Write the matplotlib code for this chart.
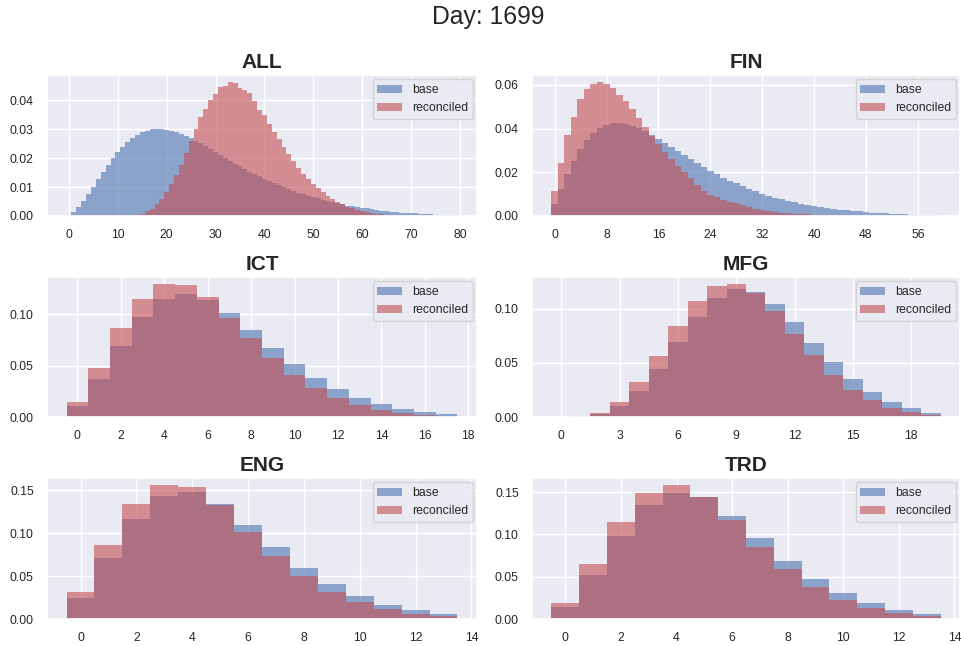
import numpy as np
import matplotlib
matplotlib.use("Agg")
import matplotlib.pyplot as plt
import seaborn as sns

sns.set_theme(style="darkgrid")
plt.rcParams['font.family'] = ['Liberation Sans', 'DejaVu Sans']

suptitle = "Day: 1699"
panels = ["ALL", "FIN", "ICT", "MFG", "ENG", "TRD"]

all_base = [0.0003, 0.0014, 0.0031, 0.0052, 0.0076, 0.0101, 0.0128, 0.0153, 0.0177, 0.0201,
            0.0222, 0.0240, 0.0257, 0.0271, 0.0281, 0.0291, 0.0296, 0.0302, 0.0302, 0.0301,
            0.0298, 0.0295, 0.0291, 0.0284, 0.0277, 0.0270, 0.0261, 0.0252, 0.0243, 0.0232,
            0.0222, 0.0212, 0.0201, 0.0191, 0.0181, 0.0173, 0.0163, 0.0154, 0.0146, 0.0137,
            0.0129, 0.0121, 0.0113, 0.0106, 0.0099, 0.0092, 0.0087, 0.0081, 0.0075, 0.0070,
            0.0065, 0.0061, 0.0057, 0.0052, 0.0048, 0.0044, 0.0040, 0.0036, 0.0033, 0.0030,
            0.0028, 0.0026, 0.0023, 0.0021, 0.0019, 0.0017, 0.0015, 0.0014, 0.0012, 0.0011,
            0.0010, 0.0009, 0.0008, 0.0007, 0.0006, 0.0005, 0.0005, 0.0004, 0.0003, 0.0003]
all_rec = [0, 0, 0, 0, 0, 0, 0, 0, 0, 0,
           0, 0, 0.0001, 0.0002, 0.0003, 0.0007, 0.0017, 0.0025, 0.0043, 0.0060,
           0.0084, 0.0112, 0.0143, 0.0178, 0.0218, 0.0260, 0.0302, 0.0343, 0.0371, 0.0402,
           0.0423, 0.0447, 0.0451, 0.0465, 0.0461, 0.0444, 0.0435, 0.0427, 0.0399, 0.0368,
           0.0350, 0.0319, 0.0292, 0.0266, 0.0240, 0.0215, 0.0191, 0.0165, 0.0146, 0.0129,
           0.0111, 0.0096, 0.0082, 0.0069, 0.0058, 0.0049, 0.0040, 0.0032, 0.0027, 0.0021,
           0.0016, 0.0013, 0.0010, 0.0008, 0.0006, 0.0005, 0.0004, 0.0003, 0.0002, 0.0001,
           0, 0, 0, 0, 0, 0, 0, 0, 0, 0]

fin_base = [0.0055, 0.0124, 0.0192, 0.0252, 0.0307, 0.0348, 0.0380, 0.0403, 0.0417, 0.0426,
            0.0426, 0.0421, 0.0412, 0.0403, 0.0389, 0.0371, 0.0353, 0.0334, 0.0316, 0.0298,
            0.0279, 0.0261, 0.0243, 0.0224, 0.0206, 0.0192, 0.0175, 0.0161, 0.0149, 0.0138,
            0.0125, 0.0115, 0.0102, 0.0092, 0.0083, 0.0077, 0.0069, 0.0063, 0.0055, 0.0051,
            0.0046, 0.0042, 0.0036, 0.0032, 0.0029, 0.0027, 0.0025, 0.0022, 0.0018, 0.0016,
            0.0014, 0.0013, 0.0011, 0.0009, 0.0008, 0.0006, 0.0005, 0.0004, 0.0004, 0.0003]
fin_rec = [0.0115, 0.0243, 0.0371, 0.0453, 0.0536, 0.0582, 0.0605, 0.0614, 0.0605, 0.0586,
           0.0554, 0.0527, 0.0490, 0.0449, 0.0408, 0.0366, 0.0330, 0.0293, 0.0261, 0.0229,
           0.0202, 0.0172, 0.0143, 0.0116, 0.0097, 0.0085, 0.0074, 0.0066, 0.0058, 0.0049,
           0.0042, 0.0033, 0.0027, 0.0022, 0.0018, 0.0015, 0.0012, 0.0010, 0.0009, 0.0008,
           0.0006, 0.0005, 0.0004, 0.0004, 0.0003, 0.0003, 0.0002, 0.0002, 0.0002, 0.0001,
           0.0001, 0, 0, 0, 0, 0, 0, 0, 0, 0]

ict_base = [0.0107, 0.0370, 0.0692, 0.0974, 0.1149, 0.1198, 0.1140, 0.1013, 0.0847, 0.0672,
            0.0516, 0.0380, 0.0273, 0.0185, 0.0127, 0.0078, 0.0049, 0.0029]
ict_rec = [0.0143, 0.0477, 0.0867, 0.1146, 0.1295, 0.1286, 0.1169, 0.0964, 0.0770, 0.0575,
           0.0409, 0.0282, 0.0185, 0.0117, 0.0068, 0.0039, 0.0019, 0.0010]

mfg_base = [0.0, 0.0002, 0.0031, 0.0102, 0.0241, 0.0444, 0.0688, 0.0926, 0.1102, 0.1185,
            0.1157, 0.1046, 0.0880, 0.0685, 0.0509, 0.0352, 0.0231, 0.0139, 0.0083, 0.0037]
mfg_rec = [0.0, 0.0006, 0.0037, 0.0139, 0.0324, 0.0565, 0.0843, 0.1071, 0.1210, 0.1231,
           0.1148, 0.0981, 0.0769, 0.0574, 0.0389, 0.0250, 0.0157, 0.0083, 0.0046, 0.0019]

eng_base = [0.0245, 0.0711, 0.1166, 0.1434, 0.1480, 0.1340, 0.1096, 0.0839, 0.0594, 0.0408,
            0.0268, 0.0163, 0.0105, 0.0058]
eng_rec = [0.0315, 0.0862, 0.1340, 0.1562, 0.1538, 0.1329, 0.1014, 0.0734, 0.0501, 0.0315,
           0.0198, 0.0117, 0.0058, 0.0035]

trd_base = [0.0142, 0.0521, 0.0983, 0.1350, 0.1492, 0.1436, 0.1219, 0.0959, 0.0687, 0.0474,
            0.0308, 0.0189, 0.0107, 0.0059]
trd_rec = [0.0189, 0.0651, 0.1148, 0.1492, 0.1587, 0.1444, 0.1172, 0.0852, 0.0592, 0.0379,
           0.0225, 0.0130, 0.0071, 0.0036]

xticks = {
    "ALL": list(range(0, 81, 10)),
    "FIN": list(range(0, 57, 8)),
    "ICT": list(range(0, 19, 2)),
    "MFG": list(range(0, 19, 3)),
    "ENG": list(range(0, 15, 2)),
    "TRD": list(range(0, 15, 2)),
}

series = {
    "ALL": (all_base, all_rec),
    "FIN": (fin_base, fin_rec),
    "ICT": (ict_base, ict_rec),
    "MFG": (mfg_base, mfg_rec),
    "ENG": (eng_base, eng_rec),
    "TRD": (trd_base, trd_rec),
}

W, H = 961, 646
fig = plt.figure(figsize=(W / 100, H / 100), dpi=100)

cols = [(47, 477), (532, 960)]
rows = [(75, 216), (277, 417), (478, 619)]

blue = sns.color_palette("deep")[0]
red = sns.color_palette("deep")[3]

for i, name in enumerate(panels):
    r, c = divmod(i, 2)
    x0, x1 = cols[c]
    y0, y1 = rows[r]
    ax = fig.add_axes([x0 / W, 1 - y1 / H, (x1 - x0) / W, (y1 - y0) / H])
    base, rec = series[name]
    k = np.arange(len(base))
    ax.bar(k, base, width=1.0, color=blue, alpha=0.6, label="base", linewidth=0)
    ax.bar(k, rec, width=1.0, color=red, alpha=0.6, label="reconciled", linewidth=0)
    ax.set_xticks(xticks[name])
    ax.tick_params(axis="both", labelsize=8.8, colors=".15")
    ax.set_title(name, fontsize=15, fontweight="bold", pad=5)
    ax.legend(loc="upper right", fontsize=8.8, borderaxespad=0.35)

fig.text(0.508, 1 - 17 / H, suptitle, ha="center", va="center", fontsize=17.8)

fig.savefig("out.png", dpi=100)
